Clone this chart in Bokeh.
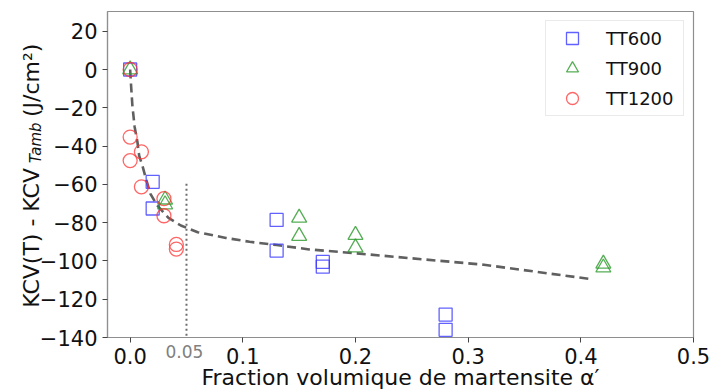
import math
from bokeh.plotting import figure
from bokeh.models import (Range1d, FixedTicker, CustomJSTickFormatter, Label,
                          Legend, LegendItem)
from bokeh.embed import file_html
from bokeh.resources import INLINE

# ---------------- data ----------------
tt600_x = [0.0, 0.020, 0.020, 0.130, 0.130, 0.171, 0.171, 0.280, 0.280]
tt600_y = [0.0, -58.7, -72.6, -78.6, -94.6, -100.5, -103.0, -128.0, -136.0]

tt900_x = [0.0, 0.031, 0.031, 0.150, 0.150, 0.200, 0.200, 0.420, 0.420]
tt900_y = [0.0, -68.0, -70.5, -77.5, -87.0, -86.5, -93.0, -101.5, -103.5]

tt1200_x = [0.0, 0.0, 0.0, 0.010, 0.010, 0.030, 0.030, 0.041, 0.041]
tt1200_y = [0.0, -35.3, -47.6, -43.0, -61.3, -67.5, -76.4, -91.4, -93.8]

fit_x = [0.0, 0.001, 0.002, 0.004, 0.0065, 0.008, 0.011, 0.014, 0.018,
         0.024, 0.034, 0.045, 0.060, 0.085, 0.106, 0.130, 0.159, 0.200,
         0.314, 0.409]
fit_y = [0.0, -10.0, -19.0, -30.0, -38.0, -45.0, -50.5, -57.0, -65.0,
         -71.0, -77.5, -81.5, -85.0, -88.0, -90.0, -91.7, -94.0, -96.0,
         -102.0, -109.5]

threshold_x = [0.05, 0.05]
threshold_y = [-59.7, -140.0]
threshold_label = "0.05"

x_ticks = [0.0, 0.1, 0.2, 0.3, 0.4, 0.5]
y_ticks = [-140, -120, -100, -80, -60, -40, -20, 0, 20]
series_names = ["TT600", "TT900", "TT1200"]

x_title = "Fraction volumique de martensite \u03b1\u2032"
y_title = "KCV(T) - KCV\u2003\u2003 (J/cm\u00b2)"   # gap holds the subscript
y_title_sub = "Tamb"

# ---------------- figure ----------------
FONT = "DejaVu Sans"
p = figure(frame_width=586, frame_height=326,
           min_border_left=107, min_border_right=19,
           min_border_top=11, min_border_bottom=53,
           x_range=Range1d(-0.0201, 0.5), y_range=Range1d(-140, 30.3),
           output_backend="svg", toolbar_location=None,
           background_fill_color="white", border_fill_color="white")

p.outline_line_color = "#8f8f8f"
p.outline_line_width = 1.2
p.xgrid.visible = False
p.ygrid.visible = False

for ax in (p.xaxis[0], p.yaxis[0]):
    ax.axis_line_color = "#8f8f8f"
    ax.axis_line_width = 1.2
    ax.major_tick_line_color = "#444444"
    ax.major_tick_out = 5
    ax.major_tick_in = 0
    ax.minor_tick_line_color = None
    ax.major_label_text_font = FONT
    ax.major_label_text_font_size = "21px"
    ax.major_label_text_color = "#111111"
    ax.major_label_standoff = 5

p.xaxis.ticker = FixedTicker(ticks=x_ticks)
p.yaxis.ticker = FixedTicker(ticks=y_ticks)
p.xaxis.formatter = CustomJSTickFormatter(code="return tick.toFixed(1);")
p.yaxis.formatter = CustomJSTickFormatter(
    code="return tick.toFixed(0).replace('-', '\u2212');")

# threshold line
p.line(threshold_x, threshold_y, line_color="#6e6e6e", line_width=2,
       line_dash="2 3")

# fitted trend
p.line(fit_x, fit_y, line_color="#606060", line_width=2.6, line_dash="9 5")

# data series
r600 = p.scatter(tt600_x, tt600_y, marker="square", size=13,
                 fill_color=None, line_color="#3a3aff", line_alpha=0.8,
                 line_width=1.3)
r900 = p.scatter(tt900_x, tt900_y, marker="triangle", size=15,
                 fill_color=None, line_color="#2a9a2a", line_alpha=0.8,
                 line_width=1.3)
r1200 = p.scatter(tt1200_x, tt1200_y, marker="circle", size=14,
                  fill_color=None, line_color="#ff3333", line_alpha=0.75,
                  line_width=1.3)

legend = Legend(items=[LegendItem(label=series_names[0], renderers=[r600]),
                       LegendItem(label=series_names[1], renderers=[r900]),
                       LegendItem(label=series_names[2], renderers=[r1200])],
                location="top_right")
legend.label_text_font = FONT
legend.label_text_font_size = "18px"
legend.label_text_color = "#111111"
legend.glyph_width = 48
legend.glyph_height = 30
legend.label_height = 30
legend.label_width = 75
legend.spacing = -3
legend.padding = 2
legend.margin = 9
legend.label_standoff = 10
legend.border_line_color = "#d6d6d6"
legend.border_line_width = 1
legend.background_fill_alpha = 0.85
p.add_layout(legend)

# grey "0.05" tick label (side panel so it is not clipped by the frame)
p.add_layout(Label(x=0.05, y=-140, text=threshold_label, x_offset=-2,
                   y_offset=-7, text_align="center", text_baseline="top",
                   text_font=FONT, text_font_size="17px",
                   text_color="#808080"), "below")

# x-axis title
p.add_layout(Label(x=0.24, y=-140, text=x_title, y_offset=-40,
                   text_align="center", text_baseline="middle",
                   text_font=FONT, text_font_size="22px",
                   text_color="#111111"), "below")

# y-axis title, rotated, with its italic subscript
p.add_layout(Label(x=-0.0875, y=-124.5, text=y_title, angle=math.pi / 2,
                   text_align="left", text_baseline="alphabetic",
                   text_font=FONT, text_font_size="22px",
                   text_color="#111111"), "left")
p.add_layout(Label(x=-0.0835, y=-49.0, text=y_title_sub, angle=math.pi / 2,
                   text_align="left", text_baseline="alphabetic",
                   text_font=FONT, text_font_style="italic",
                   text_font_size="15px", text_color="#111111"), "right")

open("out.html", "w").write(file_html(p, INLINE))
